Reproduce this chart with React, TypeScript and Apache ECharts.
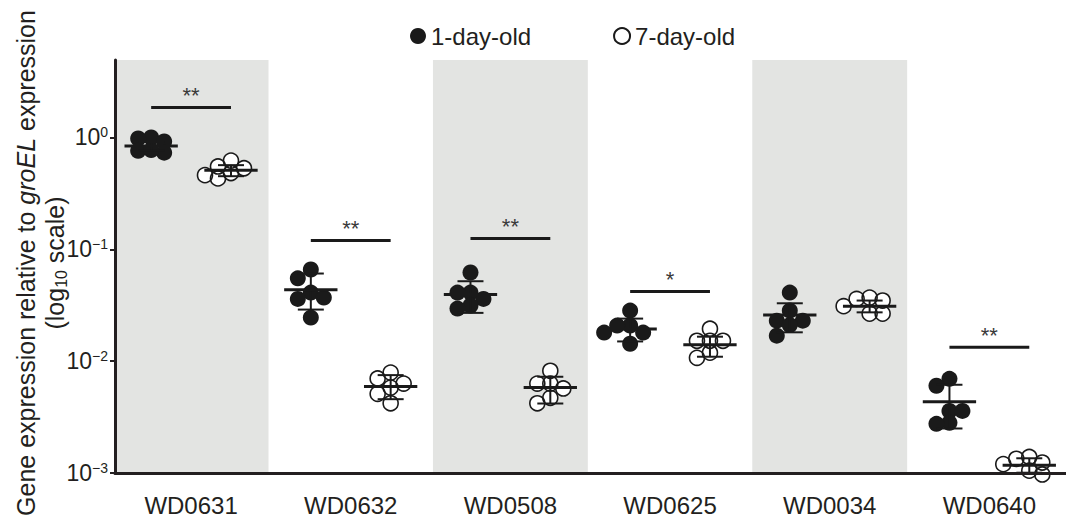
import React, { useEffect, useRef } from 'react';
import * as echarts from 'echarts';

const categories = ['WD0631', 'WD0632', 'WD0508', 'WD0625', 'WD0034', 'WD0640'];
const seriesNames = ['1-day-old', '7-day-old'];

const day1Values = [
  [1.0, 0.98, 0.92, 0.76, 0.73, 0.77],
  [0.066, 0.055, 0.041, 0.037, 0.036, 0.0245],
  [0.062, 0.041, 0.041, 0.036, 0.0314, 0.0295],
  [0.0283, 0.0208, 0.0208, 0.018, 0.018, 0.0143],
  [0.041, 0.0283, 0.023, 0.023, 0.021, 0.0169],
  [0.00695, 0.00602, 0.00359, 0.00359, 0.00281, 0.00275],
];
const day7Values = [
  [0.62, 0.55, 0.53, 0.48, 0.46, 0.43],
  [0.0079, 0.007, 0.0063, 0.0058, 0.0051, 0.0042],
  [0.0082, 0.0063, 0.0063, 0.0057, 0.0047, 0.0042],
  [0.0195, 0.0152, 0.0152, 0.0152, 0.0119, 0.0107],
  [0.037, 0.036, 0.0348, 0.031, 0.0266, 0.0266],
  [0.00139, 0.00134, 0.00124, 0.0012, 0.00105, 0.00097],
];

const day1Mean = [0.84, 0.0434, 0.0394, 0.0194, 0.0259, 0.00433];
const day1Low = [0.76, 0.0289, 0.027, 0.015, 0.0181, 0.0025];
const day1High = [0.91, 0.0607, 0.0518, 0.024, 0.0329, 0.00615];
const day7Mean = [0.508, 0.00593, 0.00581, 0.01403, 0.0309, 0.00117];
const day7Low = [0.45, 0.00457, 0.00418, 0.01095, 0.0273, 0.001006];
const day7High = [0.565, 0.0075, 0.00725, 0.01654, 0.0348, 0.001354];

const sigLabels = ['**', '**', '**', '*', '', '**'];
const sigLevels = [1.85, 0.12, 0.125, 0.042, null, 0.0133];

const yTicks = [0.001, 0.01, 0.1, 1];
const shadedGroups = [0, 2, 4];

// layout
const W = 1066;
const H = 525;
const GRID = { left: 115, right: 0, top: 60, bottom: 52 };
const X_MIN = -0.4765;
const X_MAX = 5.48;
const Y_MIN = 0.001;
const Y_MAX = 4.92;
const SUB_OFFSET = 0.25;
const FONT = '"Liberation Sans", Arial, Helvetica, sans-serif';
const INK = '#231f20';

const pxPerUnit = (W - GRID.left - GRID.right) / (X_MAX - X_MIN);
const pxPerDecade = (H - GRID.top - GRID.bottom) / Math.log10(Y_MAX / Y_MIN);

// simple deterministic beeswarm: offsets in x-axis units
function swarm(values: number[]): number[] {
  const step = 13;
  const minD = 11;
  const placed: { x: number; y: number }[] = [];
  const res = new Array(values.length).fill(0);
  const order = values.map((_, k) => k).sort((a, b) => values[b] - values[a]);
  for (const k of order) {
    const y = Math.log10(values[k]) * pxPerDecade;
    let chosen = 0;
    for (let r = 0; r <= 4; r++) {
      const left = placed.filter((p) => p.x < 0).length;
      const right = placed.filter((p) => p.x > 0).length;
      const cands = r === 0 ? [0] : left <= right ? [-r * step, r * step] : [r * step, -r * step];
      const ok = cands.find((c) => placed.every((p) => Math.hypot(p.x - c, p.y - y) >= minD));
      if (ok !== undefined) {
        chosen = ok;
        break;
      }
    }
    placed.push({ x: chosen, y });
    res[k] = chosen / pxPerUnit;
  }
  return res;
}

function pointsFor(groups: number[][], sign: number) {
  const out: number[][] = [];
  groups.forEach((vals, i) => {
    const offs = swarm(vals);
    vals.forEach((v, k) => out.push([i + sign * SUB_OFFSET + offs[k], v]));
  });
  return out;
}

const supMap: Record<string, string> = { '0': '0', '-1': '\u22121', '-2': '\u22122', '-3': '\u22123' };

export default function App() {
  const ref = useRef<HTMLDivElement>(null);
  useEffect(() => {
    document.body.style.margin = '0';
    if (!ref.current) return;
    const chart = echarts.init(ref.current, undefined, { renderer: 'svg' });

    const day1Pts = pointsFor(day1Values, -1);
    const day7Pts = pointsFor(day7Values, 1);

    const errData: number[][] = [];
    categories.forEach((_, i) => {
      errData.push([i - SUB_OFFSET, day1Mean[i], day1Low[i], day1High[i]]);
      errData.push([i + SUB_OFFSET, day7Mean[i], day7Low[i], day7High[i]]);
    });

    const sigData: any[] = [];
    categories.forEach((_, i) => {
      if (sigLevels[i] != null) sigData.push([i, sigLevels[i] as number]);
    });

    const option: any = {
      animation: false,
      backgroundColor: '#ffffff',
      textStyle: { fontFamily: FONT },
      grid: { ...GRID, containLabel: false, outerBoundsMode: 'none' },
      legend: {
        data: seriesNames,
        left: 410,
        top: 24,
        padding: 0,
        itemWidth: 16,
        itemHeight: 16,
        itemGap: 82,
        icon: 'circle',
        textStyle: { fontSize: 24, color: INK, fontFamily: FONT },
      },
      xAxis: {
        type: 'value',
        min: X_MIN,
        max: X_MAX,
        splitLine: { show: false },
        axisTick: { show: false },
        axisLine: { show: true, onZero: false, lineStyle: { color: INK, width: 3 } },
        axisLabel: {
          customValues: categories.map((_, i) => i),
          formatter: (v: number) => categories[Math.round(v)] ?? '',
          fontSize: 24,
          color: INK,
          margin: 20,
          fontFamily: FONT,
        },
        z: 5,
      },
      yAxis: {
        type: 'log',
        logBase: 10,
        min: Y_MIN,
        max: Y_MAX,
        splitLine: { show: false },
        axisLine: { show: true, onZero: false, lineStyle: { color: INK, width: 3 } },
        axisTick: { show: true, length: 5, lineStyle: { color: INK, width: 2 }, customValues: yTicks },
        axisLabel: {
          customValues: yTicks,
          margin: 7,
          formatter: (v: number) => {
            const e = String(Math.round(Math.log10(v)));
            return '{b|10}{s|' + (supMap[e] ?? e) + '}';
          },
          rich: {
            b: { fontSize: 23, color: INK, fontFamily: FONT, lineHeight: 24 },
            s: { fontSize: 14, color: INK, fontFamily: FONT, lineHeight: 14, verticalAlign: 'top' },
          },
        },
        z: 5,
      },
      graphic: [
        {
          type: 'text',
          x: 40,
          y: 263,
          rotation: Math.PI / 2,
          style: {
            text: 'Gene expression relative to {i|groEL} expression\n(log{sub|10} scale)',
            fontSize: 25,
            fontFamily: FONT,
            fill: INK,
            align: 'center',
            verticalAlign: 'middle',
            lineHeight: 29,
            rich: {
              i: { fontStyle: 'italic', fontSize: 25, fontFamily: FONT, fill: INK, lineHeight: 29 },
              sub: { fontSize: 16, fontFamily: FONT, fill: INK, lineHeight: 20, verticalAlign: 'bottom' },
            },
          },
        },
      ],
      series: [
        {
          name: 'bands',
          type: 'scatter',
          data: [],
          silent: true,
          markArea: {
            silent: true,
            itemStyle: { color: '#e3e4e2' },
            data: shadedGroups.map((i) => [{ xAxis: Math.max(i - 0.485, X_MIN) }, { xAxis: i + 0.485 }]),
          },
          z: 0,
        },
        {
          name: seriesNames[0],
          type: 'scatter',
          data: day1Pts,
          symbol: 'circle',
          symbolSize: 16,
          clip: false,
          itemStyle: { color: '#1a1a1a', opacity: 1 },
          z: 2,
        },
        {
          name: '7-day-fill',
          type: 'scatter',
          data: day7Pts,
          symbol: 'circle',
          symbolSize: 16,
          clip: false,
          itemStyle: { color: '#ffffff', opacity: 1 },
          z: 2,
        },
        {
          name: seriesNames[1],
          type: 'scatter',
          data: day7Pts,
          symbol: 'circle',
          symbolSize: 15,
          clip: false,
          itemStyle: { color: 'rgba(255,255,255,0)', borderColor: '#1a1a1a', borderWidth: 1.6, opacity: 1 },
          z: 3,
        },
        {
          name: 'errors',
          type: 'custom',
          data: errData,
          encode: { x: 0, y: 1 },
          clip: false,
          z: 4,
          renderItem: (params: any, api: any) => {
            const x = api.value(0);
            const m = api.coord([x, api.value(1)]);
            const lo = api.coord([x, api.value(2)]);
            const hi = api.coord([x, api.value(3)]);
            const half = 0.167 * pxPerUnit;
            const cap = 13;
            const st = { stroke: '#1a1a1a', lineWidth: 2 };
            return {
              type: 'group',
              children: [
                { type: 'line', shape: { x1: m[0], y1: hi[1], x2: m[0], y2: lo[1] }, style: st },
                { type: 'line', shape: { x1: m[0] - cap, y1: hi[1], x2: m[0] + cap, y2: hi[1] }, style: st },
                { type: 'line', shape: { x1: m[0] - cap, y1: lo[1], x2: m[0] + cap, y2: lo[1] }, style: st },
                {
                  type: 'line',
                  shape: { x1: m[0] - half, y1: m[1], x2: m[0] + half, y2: m[1] },
                  style: { stroke: '#1a1a1a', lineWidth: 3 },
                },
              ],
            };
          },
        },
        {
          name: 'significance',
          type: 'custom',
          data: sigData,
          encode: { x: 0, y: 1 },
          clip: false,
          z: 4,
          renderItem: (params: any, api: any) => {
            const i = api.value(0);
            const lvl = api.value(1);
            const p1 = api.coord([i - SUB_OFFSET, lvl]);
            const p2 = api.coord([i + SUB_OFFSET, lvl]);
            return {
              type: 'group',
              children: [
                {
                  type: 'line',
                  shape: { x1: p1[0], y1: p1[1], x2: p2[0], y2: p2[1] },
                  style: { stroke: '#1a1a1a', lineWidth: 3 },
                },
                {
                  type: 'text',
                  x: (p1[0] + p2[0]) / 2,
                  y: p1[1] - 12,
                  style: {
                    text: sigLabels[Math.round(i)],
                    fontSize: 22,
                    fontFamily: FONT,
                    fill: '#3a3a3a',
                    align: 'center',
                    verticalAlign: 'middle',
                  },
                },
              ],
            };
          },
        },
      ],
    };

    chart.setOption(option);
    return () => chart.dispose();
  }, []);

  return (
    <div
      ref={ref}
      style={{ position: 'absolute', left: 0, top: 0, width: W, height: H, background: '#fff' }}
    />
  );
}
